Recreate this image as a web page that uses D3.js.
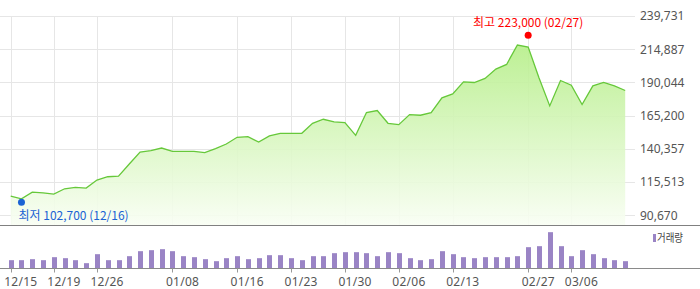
<!DOCTYPE html>
<html>
<head>
<meta charset="utf-8">
<script src="https://cdn.jsdelivr.net/npm/d3@7"></script>
<style>
    body { margin: 0; background: #fff; }
    svg { display: block; }
    .label { font-family: "Noto Sans", "Noto Sans CJK KR", sans-serif; font-size: 12px; fill: #555; }
    .note { font-family: "Noto Sans CJK KR", "Noto Sans", sans-serif; font-size: 12px; }
</style>
</head>
<body>
<svg id="chart"></svg>
<script>
const dates = [
    "12/15", "12/16", "12/17", "12/18", "12/19", "12/22", "12/23", "12/24", "12/26", "12/29",
    "12/30", "01/02", "01/05", "01/06", "01/07", "01/08", "01/09", "01/12", "01/13", "01/14",
    "01/15", "01/16", "01/19", "01/20", "01/21", "01/22", "01/23", "01/26", "01/27", "01/28",
    "01/29", "01/30", "02/02", "02/03", "02/04", "02/05", "02/06", "02/09", "02/10", "02/11",
    "02/12", "02/13", "02/16", "02/17", "02/23", "02/24", "02/25", "02/26", "02/27", "03/03",
    "03/04", "03/05", "03/06", "03/09", "03/10", "03/11", "03/12", "03/13"
];

const prices = [
    105000, 103000, 108000, 107500, 106500, 110500, 111500, 111000, 117000, 119500,
    120000, 129000, 138000, 139000, 141000, 138500, 138500, 138500, 137500, 140500,
    144000, 149000, 149500, 145500, 150000, 152000, 152000, 152000, 159500, 162500,
    160500, 160000, 150500, 167500, 169000, 159500, 158500, 166000, 165500, 167500,
    178500, 181500, 190500, 190000, 193000, 200000, 203500, 218000, 216500, 193500,
    172500, 191500, 188000, 173500, 187500, 190000, 187500, 184000
];

// volume, thousand shares
const volumes = [
    208, 208, 233, 208, 283, 258, 208, 133, 358, 208,
    208, 308, 433, 458, 483, 433, 308, 283, 233, 183,
    258, 308, 233, 258, 333, 333, 258, 208, 308, 308,
    383, 408, 408, 383, 308, 408, 383, 258, 208, 233,
    433, 358, 283, 258, 283, 283, 283, 308, 533, 558,
    908, 558, 308, 458, 358, 258, 208, 183
];

const yTicks = [90670, 115513, 140357, 165200, 190044, 214887, 239731];
const xTicks = ["12/15", "12/19", "12/26", "01/08", "01/16", "01/23", "01/30", "02/06", "02/13", "02/27", "03/06"];

const highNote = { label: "최고", value: 223000, date: "02/27" };
const lowNote = { label: "최저", value: 102700, date: "12/16" };

document.addEventListener("DOMContentLoaded", function () {
    const width = 700;
    const height = 289;
    const gridRight = 635;
    const chartBottom = 225.5;
    const volBase = 268.5;

    const svg = d3.select("#chart")
        .attr("width", width)
        .attr("height", height);

    const x = d3.scaleLinear()
        .domain([0, dates.length - 1])
        .range([10.7, 625.2]);

    const y = d3.scaleLinear()
        .domain([yTicks[0], yTicks[yTicks.length - 1]])
        .range([215.3, 16]);

    const yVol = d3.scaleLinear()
        .domain([0, 1000])
        .range([volBase, volBase - 40]);

    const fmt = d3.format(",");

    // gradient for the area
    const grad = svg.append("defs").append("linearGradient")
        .attr("id", "fillGrad")
        .attr("gradientUnits", "userSpaceOnUse")
        .attr("x1", 0).attr("x2", 0)
        .attr("y1", 40).attr("y2", chartBottom);
    grad.append("stop").attr("offset", "0%").attr("stop-color", "#b4ee86");
    grad.append("stop").attr("offset", "100%").attr("stop-color", "#f9fef4");

    // grid
    svg.append("g")
        .selectAll("line")
        .data(yTicks)
        .enter()
        .append("line")
        .attr("x1", 0)
        .attr("x2", gridRight)
        .attr("y1", d => Math.round(y(d)) + 0.5)
        .attr("y2", d => Math.round(y(d)) + 0.5)
        .attr("stroke", "#e6e6e6");

    const tickIdx = xTicks.map(t => dates.indexOf(t));

    svg.append("g")
        .selectAll("line")
        .data(tickIdx)
        .enter()
        .append("line")
        .attr("x1", d => Math.round(x(d)) + 0.5)
        .attr("x2", d => Math.round(x(d)) + 0.5)
        .attr("y1", y(yTicks[yTicks.length - 1]))
        .attr("y2", chartBottom)
        .attr("stroke", "#e6e6e6");

    // price area + line
    const area = d3.area()
        .x((d, i) => x(i))
        .y0(chartBottom)
        .y1(d => y(d));

    const line = d3.line()
        .x((d, i) => x(i))
        .y(d => y(d));

    svg.append("path")
        .datum(prices)
        .attr("d", area)
        .attr("fill", "url(#fillGrad)")
        .attr("fill-opacity", 0.9);

    svg.append("path")
        .datum(prices)
        .attr("d", line)
        .attr("fill", "none")
        .attr("stroke", "#66c83a")
        .attr("stroke-width", 1.3);

    // y labels
    svg.append("g")
        .selectAll("text")
        .data(yTicks)
        .enter()
        .append("text")
        .attr("class", "label")
        .attr("x", 640)
        .attr("y", d => y(d) + 4.3)
        .text(d => fmt(d));

    // high / low markers
    const hx = x(dates.indexOf(highNote.date));
    svg.append("circle")
        .attr("cx", hx)
        .attr("cy", y(highNote.value) - 3)
        .attr("r", 3.5)
        .attr("fill", "#ff0000");
    svg.append("text")
        .attr("class", "note")
        .attr("x", hx)
        .attr("y", 27)
        .attr("text-anchor", "middle")
        .attr("fill", "#ff0000")
        .text(highNote.label + " " + fmt(highNote.value) + " (" + highNote.date + ")");

    const lx = x(dates.indexOf(lowNote.date));
    svg.append("circle")
        .attr("cx", lx)
        .attr("cy", y(lowNote.value) + 3)
        .attr("r", 3.5)
        .attr("fill", "#1a63d4");
    svg.append("text")
        .attr("class", "note")
        .attr("x", lx - 3)
        .attr("y", 219.5)
        .attr("fill", "#1a63d4")
        .text(lowNote.label + " " + fmt(lowNote.value) + " (" + lowNote.date + ")");

    // separator
    svg.append("line")
        .attr("x1", 0).attr("x2", width)
        .attr("y1", chartBottom).attr("y2", chartBottom)
        .attr("stroke", "#808080");

    // volume bars
    svg.append("g")
        .selectAll("rect")
        .data(volumes)
        .enter()
        .append("rect")
        .attr("x", (d, i) => Math.round(x(i)) - 2)
        .attr("y", d => yVol(d))
        .attr("width", 5)
        .attr("height", d => volBase - yVol(d))
        .attr("fill", "#9a84c5");

    svg.append("line")
        .attr("x1", 0).attr("x2", width)
        .attr("y1", volBase).attr("y2", volBase)
        .attr("stroke", "#8a8a8a");

    // x axis ticks
    svg.append("g")
        .selectAll("line")
        .data(tickIdx)
        .enter()
        .append("line")
        .attr("x1", d => Math.round(x(d)) + 0.5)
        .attr("x2", d => Math.round(x(d)) + 0.5)
        .attr("y1", volBase)
        .attr("y2", volBase + 4)
        .attr("stroke", "#999");

    svg.append("g")
        .selectAll("text")
        .data(tickIdx)
        .enter()
        .append("text")
        .attr("class", "label")
        .attr("x", d => x(d) - 6.5)
        .attr("y", 286)
        .attr("textLength", 33)
        .attr("lengthAdjust", "spacing")
        .text(d => dates[d]);

    // legend
    svg.append("rect")
        .attr("x", 653)
        .attr("y", 234)
        .attr("width", 3)
        .attr("height", 8)
        .attr("fill", "#9a84c5");
    svg.append("text")
        .attr("x", 657)
        .attr("y", 242)
        .attr("textLength", 26)
        .attr("lengthAdjust", "spacingAndGlyphs")
        .style("font-family", "'Noto Sans CJK KR', sans-serif")
        .style("font-size", "11px")
        .attr("fill", "#444")
        .text("거래량");
});
</script>
</body>
</html>
